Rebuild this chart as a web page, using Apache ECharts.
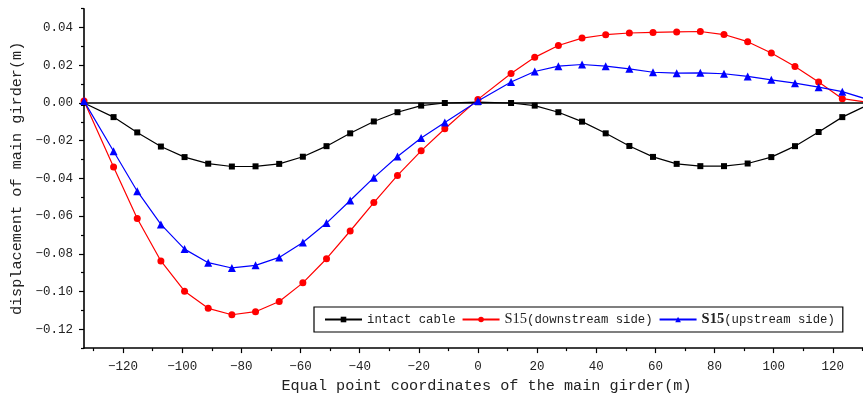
<!DOCTYPE html>
<html>
<head>
<meta charset="utf-8">
<script src="https://cdn.jsdelivr.net/npm/echarts@6/dist/echarts.min.js"></script>
<style>html,body{margin:0;padding:0;background:#fff}#c{width:863px;height:398px}</style>
</head>
<body>
<div id="c"></div>
<script>
const xs = [-133.2,-123.2,-115.2,-107.2,-99.2,-91.2,-83.2,-75.2,-67.2,-59.2,-51.2,-43.2,-35.2,-27.2,-19.2,-11.2,0,11.2,19.2,27.2,35.2,43.2,51.2,59.2,67.2,75.2,83.2,91.2,99.2,107.2,115.2,123.2,133.2];
const intact = [0.0,-0.0075,-0.0156,-0.0231,-0.0287,-0.0322,-0.0337,-0.0336,-0.0323,-0.0285,-0.0229,-0.0161,-0.0098,-0.0049,-0.0014,0.0000,0.0004,0.0000,-0.0014,-0.0049,-0.0099,-0.0161,-0.0228,-0.0286,-0.0323,-0.0335,-0.0335,-0.0321,-0.0287,-0.0229,-0.0154,-0.0075,0.0];
const downstream = [0.0010,-0.0340,-0.0613,-0.0838,-0.0998,-0.1089,-0.1123,-0.1107,-0.1053,-0.0954,-0.0826,-0.0679,-0.0528,-0.0384,-0.0254,-0.0137,0.0019,0.0156,0.0242,0.0305,0.0344,0.0362,0.0371,0.0374,0.0377,0.0379,0.0363,0.0325,0.0265,0.0193,0.0111,0.0023,0.0000];
const upstream = [0.0010,-0.0256,-0.0468,-0.0644,-0.0775,-0.0847,-0.0875,-0.0861,-0.0819,-0.0740,-0.0637,-0.0517,-0.0396,-0.0284,-0.0186,-0.0103,0.0010,0.0111,0.0167,0.0195,0.0204,0.0195,0.0181,0.0163,0.0158,0.0160,0.0155,0.0141,0.0123,0.0105,0.0084,0.0060,0.0012];
const seriesNames = ['intact cable','S15(downstream side)','S15(upstream side)'];
const xMajor = [-120,-100,-80,-60,-40,-20,0,20,40,60,80,100,120];
const xMinor = [-130,-110,-90,-70,-50,-30,-10,10,30,50,70,90,110,130];
const yMajor = [0.04,0.02,0,-0.02,-0.04,-0.06,-0.08,-0.1,-0.12];
const yMinor = [0.05,0.03,0.01,-0.01,-0.03,-0.05,-0.07,-0.09,-0.11,-0.13];

const FONT = '"Liberation Mono", monospace';
const TXT = '#222';
function fmtX(v){ const s = String(Math.round(v)); return v < 0 ? '\u2212' + s.slice(1) : s; }
function fmtY(v){ const s = Math.abs(v).toFixed(2); return v < -1e-9 ? '\u2212' + s : s; }
function pairs(vals){ return xs.map((x,i)=>[x, vals[i]]); }

const chart = echarts.init(document.getElementById('c'));
const XMIN = -133.2, XMAX = 130.2, YMIN = -0.13, YMAX = 0.05;
chart.setOption({
  animation: false,
  grid: {left: 84, right: 0, top: 8.7, bottom: 48, containLabel: false},
  legend: {
    left: 314, top: 307, orient: 'horizontal',
    borderColor: '#000', borderWidth: 1.2, borderRadius: 0,
    padding: [5, 8, 5, 10],
    itemWidth: 37, itemHeight: 7, itemGap: 6,
    textStyle: {fontFamily: FONT, fontSize: 12.3, color: TXT,
      rich: {
        a: {fontFamily: '"Liberation Serif", serif', fontSize: 14.5, color: TXT},
        b: {fontFamily: '"Liberation Serif", serif', fontSize: 14.5, fontWeight: 'bold', color: TXT}
      }},
    formatter: function(n){
      if (n === seriesNames[1]) return '{a|S15}(downstream side)';
      if (n === seriesNames[2]) return '{b|S15}(upstream side)';
      return n;
    },
    data: seriesNames
  },
  xAxis: [{
    type: 'value', min: XMIN, max: XMAX, position: 'bottom',
    axisLine: {show: true, onZero: false, lineStyle: {color: '#000', width: 1.6}},
    axisTick: {show: true, length: 5, lineStyle: {color: '#000', width: 1.2}, customValues: xMajor},
    axisLabel: {customValues: xMajor, formatter: fmtX, margin: 12, fontFamily: FONT, fontSize: 12.5, color: TXT},
    splitLine: {show: false},
    name: 'Equal point coordinates of the main girder(m)',
    nameLocation: 'middle', nameGap: 27,
    nameTextStyle: {fontFamily: FONT, fontSize: 15.2, color: TXT, padding: [0, 0, 0, 26]}
  }, {
    type: 'value', min: XMIN, max: XMAX, position: 'bottom',
    axisLine: {show: false, onZero: false},
    axisTick: {show: true, length: 3, lineStyle: {color: '#000', width: 1.2}, customValues: xMinor},
    axisLabel: {show: false},
    splitLine: {show: false}
  }],
  yAxis: [{
    type: 'value', min: YMIN, max: YMAX, position: 'left',
    axisLine: {show: true, onZero: false, lineStyle: {color: '#000', width: 1.6}},
    axisTick: {show: true, length: 5, lineStyle: {color: '#000', width: 1.2}, customValues: yMajor},
    axisLabel: {customValues: yMajor, formatter: fmtY, margin: 11, fontFamily: FONT, fontSize: 12.5, color: TXT},
    splitLine: {show: false},
    name: 'displacement of main girder(m)',
    nameLocation: 'middle', nameGap: 54,
    nameTextStyle: {fontFamily: FONT, fontSize: 15.2, color: TXT}
  }, {
    type: 'value', min: YMIN, max: YMAX, position: 'left',
    axisLine: {show: false, onZero: false},
    axisTick: {show: true, length: 3, lineStyle: {color: '#000', width: 1.2}, customValues: yMinor},
    axisLabel: {show: false},
    splitLine: {show: false}
  }],
  series: [{
    name: seriesNames[0], type: 'line', data: pairs(intact), clip: true,
    symbol: 'rect', symbolSize: 6, color: '#000',
    lineStyle: {width: 1.2, color: '#000'}, itemStyle: {color: '#000'},
    markLine: {silent: true, symbol: 'none', label: {show: false},
      lineStyle: {type: 'solid', color: '#000', width: 1.5},
      data: [{yAxis: 0}]},
    z: 3
  }, {
    name: seriesNames[1], type: 'line', data: pairs(downstream), clip: true,
    symbol: 'circle', symbolSize: 7, color: '#ff0000',
    lineStyle: {width: 1.2, color: '#ff0000'}, itemStyle: {color: '#ff0000'},
    z: 4
  }, {
    name: seriesNames[2], type: 'line', data: pairs(upstream), clip: true,
    symbol: 'triangle', symbolSize: 8, color: '#0000ff',
    lineStyle: {width: 1.2, color: '#0000ff'}, itemStyle: {color: '#0000ff'},
    z: 5
  }]
});
</script>
</body>
</html>
